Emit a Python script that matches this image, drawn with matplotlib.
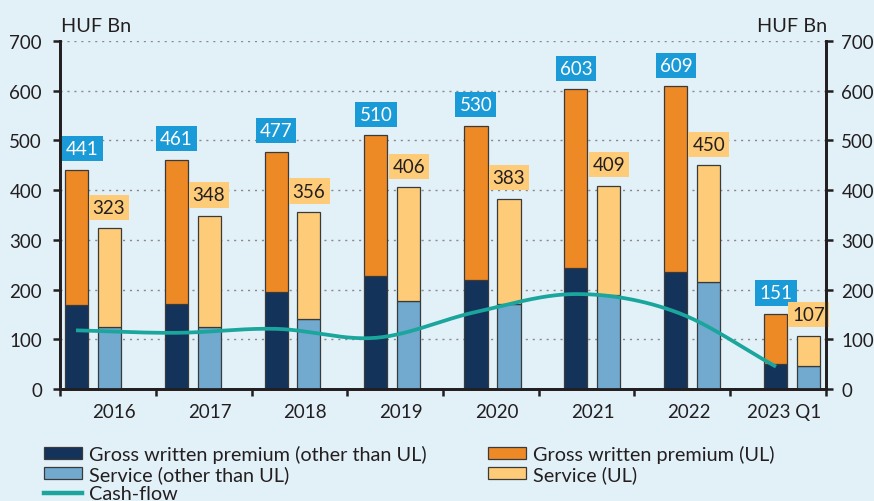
import numpy as np
import matplotlib
matplotlib.use('Agg')
import matplotlib.pyplot as plt
from matplotlib.patches import Patch
from matplotlib.lines import Line2D

# data (HUF Bn)
years = ['2016', '2017', '2018', '2019', '2020', '2021', '2022', '2023 Q1']
gwp_total = [441, 461, 477, 510, 530, 603, 609, 151]
gwp_other = [169, 170, 195, 227, 219, 243, 235, 51]
service_total = [323, 348, 356, 406, 383, 409, 450, 107]
service_other = [125, 125, 141, 178, 170, 190, 215, 46]
cash_flow = [118, 113, 121, 103, 155, 191, 155, 45]

c_dark = '#13335B'
c_orange = '#EE8A26'
c_light = '#72A9CF'
c_yellow = '#FECC78'
c_teal = '#1AA69C'
c_box = '#1A9AD7'
c_bg = '#E2F0F8'
c_txt = '#231F20'

plt.rcParams['font.family'] = ['Lato', 'DejaVu Sans']
fs = 13.5


def smooth(xs, ys, n=30):
    # catmull-rom curve through the points (like excel's smoothed line)
    xs = np.asarray(xs, float)
    ys = np.asarray(ys, float)
    px = np.concatenate([[2 * xs[0] - xs[1]], xs, [2 * xs[-1] - xs[-2]]])
    py = np.concatenate([[2 * ys[0] - ys[1]], ys, [2 * ys[-1] - ys[-2]]])
    outx, outy = [], []
    t = np.linspace(0, 1, n)
    for i in range(1, len(px) - 2):
        for p, out in ((px, outx), (py, outy)):
            p0, p1, p2, p3 = p[i - 1], p[i], p[i + 1], p[i + 2]
            out.extend(0.5 * (2 * p1 + (-p0 + p2) * t + (2 * p0 - 5 * p1 + 4 * p2 - p3) * t ** 2
                              + (-p0 + 3 * p1 - 3 * p2 + p3) * t ** 3))
    return np.array(outx), np.array(outy)


fig = plt.figure(figsize=(8.74, 5.02), dpi=100)
fig.patch.set_facecolor(c_bg)
ax = fig.add_axes([60 / 874, 1 - 390 / 502, 766 / 874, 348 / 502])
ax.set_facecolor(c_bg)

n = len(years)
xd = np.arange(n) * 1.0
xl = xd + 0.33
w = 0.23
gwp_ul = np.array(gwp_total) - np.array(gwp_other)
serv_ul = np.array(service_total) - np.array(service_other)

ec = '#3A3A3A'
ax.bar(xd, gwp_other, w, color=c_dark, edgecolor=ec, linewidth=0.9, zorder=3)
ax.bar(xd, gwp_ul, w, bottom=gwp_other, color=c_orange, edgecolor=ec, linewidth=0.9, zorder=3)
ax.bar(xl, service_other, w, color=c_light, edgecolor=ec, linewidth=0.9, zorder=3)
ax.bar(xl, serv_ul, w, bottom=service_other, color=c_yellow, edgecolor=ec, linewidth=0.9, zorder=3)

sx, sy = smooth(xd, cash_flow)
ax.plot(sx, sy, color=c_teal, lw=2.7, zorder=4, solid_capstyle='butt')

for i in range(n):
    dx = 0.06 if i == 0 else 0  # first label sits clear of the axis
    ax.annotate(str(gwp_total[i]), (xd[i] + dx, gwp_total[i]), xytext=(0, 9), textcoords='offset points',
                ha='center', va='bottom', fontsize=fs, color='white', zorder=5,
                bbox=dict(boxstyle='square,pad=0.22', fc=c_box, ec='none'))
    ax.annotate(str(service_total[i]), (xl[i], service_total[i]), xytext=(0, 9), textcoords='offset points',
                ha='center', va='bottom', fontsize=fs, color=c_txt, zorder=5,
                bbox=dict(boxstyle='square,pad=0.22', fc=c_yellow, ec='none'))

left, right = -0.16, 7.50
cw = (right - left) / n
ax.set_xlim(left, right)
ax.set_ylim(0, 700)
ax.set_xticks([left + cw * k for k in range(n + 1)])
ax.set_xticklabels([])
ax.set_xticks([left + cw * (k + 0.5) + 0.06 for k in range(n)], minor=True)
ax.set_xticklabels(years, minor=True, fontsize=fs, color=c_txt)
ax.tick_params(axis='x', which='major', direction='out', length=5, width=1.8, color=c_txt)
ax.tick_params(axis='x', which='minor', length=0, pad=10)

yt = np.arange(0, 701, 100)
ax.set_yticks(yt)
ax.tick_params(axis='y', direction='out', length=5, width=1.8, color=c_txt, labelsize=fs,
               labelcolor=c_txt, pad=8)
ax2 = ax.twinx()
ax2.set_ylim(0, 700)
ax2.set_yticks(yt)
ax2.tick_params(axis='y', direction='out', length=5, width=1.8, color=c_txt, labelsize=fs,
                labelcolor=c_txt, pad=6)

for y in yt[1:]:
    ax.axhline(y, color='#8A8A8A', lw=1.0, ls=(0, (1.5, 3.5)), zorder=1)

for a in (ax, ax2):
    a.spines['top'].set_visible(False)
    for s in ('left', 'right', 'bottom'):
        a.spines[s].set_color(c_txt)
        a.spines[s].set_linewidth(2.0)

fig.text(61 / 874, 1 - 27 / 502, 'HUF Bn', fontsize=14.3, color=c_txt, ha='left', va='center')
fig.text(827 / 874, 1 - 27 / 502, 'HUF Bn', fontsize=14.3, color=c_txt, ha='right', va='center')

handles = [Patch(fc=c_dark, ec=ec, lw=0.9), Patch(fc=c_light, ec=ec, lw=0.9),
           Line2D([], [], color=c_teal, lw=3.2),
           Patch(fc=c_orange, ec=ec, lw=0.9), Patch(fc=c_yellow, ec=ec, lw=0.9)]
labels = ['Gross written premium (other than UL)', 'Service (other than UL)', 'Cash-flow',
          'Gross written premium (UL)', 'Service (UL)']
leg = fig.legend(handles, labels, ncol=2, loc='upper left', bbox_to_anchor=(44 / 874, 1 - 446 / 502),
                 frameon=False, fontsize=14.3, handlelength=1.9, handleheight=0.5, handletextpad=0.35,
                 columnspacing=3.1, labelspacing=0.1, borderaxespad=0, borderpad=0)
for t in leg.get_texts():
    t.set_color(c_txt)

fig.savefig('out.png', dpi=100, facecolor=c_bg)
